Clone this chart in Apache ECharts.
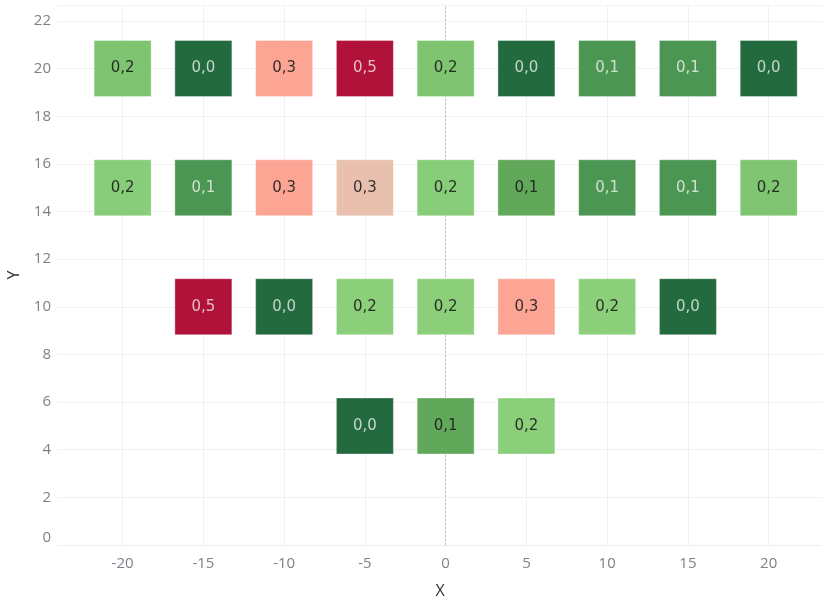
<!DOCTYPE html>
<html>
<head>
<meta charset="utf-8">
<script src="https://cdn.jsdelivr.net/npm/echarts@6/dist/echarts.min.js"></script>
<style>
  html, body { margin: 0; padding: 0; background: #ffffff; }
  #chart { width: 822px; height: 602px; }
</style>
</head>
<body>
<div id="chart"></div>
<script>
// Cell grid: one row of values per Y level, columns at the listed X positions
const rowY = [20, 15, 10, 5];
const rowX = [
  [-20, -15, -10, -5, 0, 5, 10, 15, 20],
  [-20, -15, -10, -5, 0, 5, 10, 15, 20],
  [-15, -10, -5, 0, 5, 10, 15],
  [-5, 0, 5]
];
const rowValues = [
  [0.2, 0.0, 0.3, 0.5, 0.2, 0.0, 0.1, 0.1, 0.0],
  [0.2, 0.1, 0.3, 0.3, 0.2, 0.1, 0.1, 0.1, 0.2],
  [0.5, 0.0, 0.2, 0.2, 0.3, 0.2, 0.0],
  [0.0, 0.1, 0.2]
];
// Fill colour of each cell, same layout as rowValues
const rowColors = [
  ['#7fc571', '#236a3e', '#fca594', '#b0123a', '#7fc571', '#236a3e', '#4c9653', '#4c9653', '#236a3e'],
  ['#88cd79', '#4c9653', '#fca594', '#e9c0ae', '#88cd79', '#62a85a', '#4c9653', '#4c9653', '#80c572'],
  ['#b0123a', '#236a3e', '#8bcf7b', '#8bcf7b', '#fca594', '#8bcf7b', '#236a3e'],
  ['#236a3e', '#62a85a', '#8bcf7b']
];
const xTicks = [-20, -15, -10, -5, 0, 5, 10, 15, 20];

function luminance(hex) {
  const c = [1, 3, 5].map(i => parseInt(hex.substr(i, 2), 16) / 255)
    .map(v => v <= 0.03928 ? v / 12.92 : Math.pow((v + 0.055) / 1.055, 2.4));
  return 0.2126 * c[0] + 0.7152 * c[1] + 0.0722 * c[2];
}

const cells = [];
rowY.forEach((y, r) => {
  rowX[r].forEach((x, i) => {
    const fill = rowColors[r][i];
    cells.push({
      value: [x, y, rowValues[r][i]],
      itemStyle: { color: fill },
      label: { color: luminance(fill) > 0.28 ? 'rgba(25,25,25,0.88)' : 'rgba(255,255,255,0.72)' }
    });
  });
});

const chart = echarts.init(document.getElementById('chart'), null, { renderer: 'canvas' });
chart.setOption({
  animation: false,
  backgroundColor: '#ffffff',
  grid: { left: 58, right: 0, top: 5, bottom: 57, containLabel: false, outerBoundsMode: 'none' },
  xAxis: {
    type: 'value',
    min: -24,
    max: 23.3,
    name: 'X',
    nameLocation: 'middle',
    nameGap: 38,
    nameTextStyle: { color: '#333333', fontSize: 16, fontFamily: 'Open Sans' },
    axisLine: { show: true, lineStyle: { color: '#eeeeee' } },
    axisTick: { show: false },
    splitLine: { show: false },
    axisLabel: {
      customValues: xTicks,
      color: '#7e7f88',
      fontSize: 15,
      fontFamily: 'Open Sans',
      margin: 11
    }
  },
  yAxis: {
    type: 'value',
    min: 0,
    max: 22.67,
    interval: 2,
    name: 'Y',
    nameLocation: 'middle',
    nameGap: 36,
    nameRotate: 90,
    nameTextStyle: { color: '#333333', fontSize: 16, fontFamily: 'Open Sans' },
    axisLine: { show: true, lineStyle: { color: '#eeeeee' } },
    axisTick: { show: false },
    splitLine: { show: true, lineStyle: { color: '#f1f1f1', width: 1 } },
    axisLabel: {
      color: '#7e7f88',
      fontSize: 15,
      fontFamily: 'Open Sans',
      margin: 7,
      showMaxLabel: false,
      verticalAlignMinLabel: 'bottom'
    }
  },
  series: [
    {
      // vertical grid lines and the dotted zero line, kept beneath the cells
      type: 'scatter',
      data: [],
      silent: true,
      z: 1,
      markLine: {
        silent: true,
        symbol: 'none',
        label: { show: false },
        animation: false,
        data: xTicks.filter(v => v !== 0).map(v => ({
          xAxis: v,
          lineStyle: { color: '#f1f1f1', width: 1, type: 'solid' }
        })).concat([{
          xAxis: 0,
          lineStyle: { color: '#bdbdbd', width: 1, type: [2, 2] }
        }])
      }
    },
    {
      type: 'scatter',
      symbol: 'rect',
      symbolSize: [57, 56],
      data: cells,
      itemStyle: { borderColor: 'rgba(255,255,255,0.35)', borderWidth: 1, opacity: 1 },
      label: {
        show: true,
        position: 'inside',
        fontSize: 15,
        fontFamily: 'DejaVu Sans',
        formatter: p => p.value[2].toFixed(1).replace('.', ',')
      },
      emphasis: { disabled: true },
      z: 5
    }
  ]
});
</script>
</body>
</html>
